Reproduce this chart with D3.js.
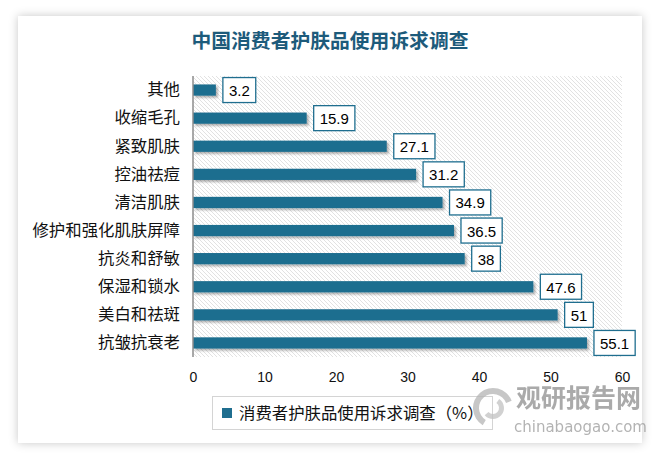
<!DOCTYPE html>
<html><head><meta charset="utf-8">
<script src="https://cdn.jsdelivr.net/npm/d3@7"></script>
<style>html,body{margin:0;padding:0;background:#fff;}svg{display:block;}</style>
</head><body>
<script>
const categories = ["其他","收缩毛孔","紧致肌肤","控油祛痘","清洁肌肤","修护和强化肌肤屏障","抗炎和舒敏","保湿和锁水","美白和祛斑","抗皱抗衰老"];
const values = [3.2,15.9,27.1,31.2,34.9,36.5,38,47.6,51,55.1];
const tickValues = [0,10,20,30,40,50,60];
const title = "中国消费者护肤品使用诉求调查";
const legendLabel = "消费者护肤品使用诉求调查（%）";

const W = 659, H = 459;
const barColor = "#1f6e8f";
const svg = d3.select("body").append("svg").attr("width", W).attr("height", H);
const defs = svg.append("defs");

const cs = defs.append("filter").attr("id","cardShadow").attr("x","-10%").attr("y","-10%").attr("width","120%").attr("height","120%");
cs.append("feDropShadow").attr("dx",0).attr("dy",0).attr("stdDeviation",5).attr("flood-color","#000").attr("flood-opacity",0.22);

const bs = defs.append("filter").attr("id","barShadow").attr("x","-5%").attr("y","-50%").attr("width","115%").attr("height","220%");
bs.append("feDropShadow").attr("dx",2).attr("dy",2).attr("stdDeviation",1.2).attr("flood-color","#000").attr("flood-opacity",0.3);

const pat = defs.append("pattern").attr("id","hatch").attr("patternUnits","userSpaceOnUse")
  .attr("width",4).attr("height",4);
pat.append("rect").attr("width",4).attr("height",4).attr("fill","#fff");
pat.append("path").attr("d","M-1,-1 L5,5 M-1,3 L1,5 M3,-1 L5,1").attr("stroke","#e2e2e2").attr("stroke-width",1);

// card
svg.append("rect").attr("x",18).attr("y",16).attr("width",624).attr("height",427)
  .attr("fill","#fff").attr("filter","url(#cardShadow)");

// title
svg.append("text").attr("x",330).attr("y",48).attr("text-anchor","middle")
  .attr("font-family","'Noto Sans CJK SC'").attr("font-weight","bold").attr("font-size",19.8)
  .attr("fill","#1d5b7b").text(title);

const x = d3.scaleLinear().domain([0,60]).range([193,622]);
const y = d3.scaleBand().domain(categories).range([76,357]).paddingInner(0.6).paddingOuter(0.3);

// plot background
svg.append("rect").attr("x",x(0)).attr("y",76).attr("width",x(60)-x(0)).attr("height",281).attr("fill","url(#hatch)");

// bars
svg.append("g").selectAll("rect").data(categories).join("rect")
  .attr("x",x(0)).attr("y",d=>y(d)).attr("width",(d,i)=>x(values[i])-x(0)).attr("height",y.bandwidth())
  .attr("fill",barColor).attr("filter","url(#barShadow)");

// axis line
svg.append("line").attr("x1",x(0)).attr("x2",x(0)).attr("y1",76).attr("y2",357).attr("stroke","#8c8c8c").attr("stroke-width",1.5);

// category labels
const yAxis = svg.append("g").attr("transform",`translate(${x(0)},0)`)
  .call(d3.axisLeft(y).tickSize(0).tickPadding(13));
yAxis.select(".domain").remove();
yAxis.selectAll("text").attr("font-family","'Noto Sans CJK SC'").attr("font-size",16.4).attr("fill","#111");

// x tick labels
const xAxis = svg.append("g").attr("transform","translate(0,357)")
  .call(d3.axisBottom(x).tickValues(tickValues).tickSize(0).tickPadding(15));
xAxis.select(".domain").remove();
xAxis.selectAll("text").attr("font-family","'Liberation Sans'").attr("font-size",14).attr("fill","#111");

// value boxes
const lab = svg.append("g").selectAll("g").data(categories).join("g");
lab.each(function(d,i){
  const g = d3.select(this);
  const cy = y(d) + y.bandwidth()/2;
  const t = g.append("text").attr("font-family","'Liberation Sans'").attr("font-size",15).attr("fill","#000")
    .attr("dominant-baseline","central").text(values[i]);
  const tw = t.node().getComputedTextLength();
  const bx = x(values[i]) + 7;
  const bw = tw + 12;
  g.insert("rect","text").attr("x",bx).attr("y",cy-12.5).attr("width",bw).attr("height",25)
    .attr("fill","#fff").attr("stroke",barColor).attr("stroke-width",1.3);
  t.attr("x",bx+6).attr("y",cy+0.5);
});

// legend
svg.append("rect").attr("x",212.5).attr("y",396.5).attr("width",280).attr("height",33)
  .attr("fill","#fff").attr("stroke","#d4d4d4");
svg.append("rect").attr("x",222).attr("y",408).attr("width",10).attr("height",10).attr("fill",barColor);
svg.append("text").attr("x",239).attr("y",419).attr("font-family","'Noto Sans CJK SC'").attr("font-size",16.4)
  .attr("fill","#111").text(legendLabel);

// watermark
const wm = svg.append("g").attr("opacity",0.75);
wm.append("path").attr("d",d3.arc()({innerRadius:14,outerRadius:20,startAngle:-2.6,endAngle:1.2}))
  .attr("transform","translate(493,408)").attr("fill","#b5b5b5");
wm.append("path").attr("d",d3.arc()({innerRadius:6,outerRadius:11,startAngle:0.6,endAngle:4.0}))
  .attr("transform","translate(493,408)").attr("fill","#c2c2c2");
wm.append("text").attr("x",516).attr("y",407).attr("font-family","'Noto Sans CJK SC'").attr("font-weight","bold")
  .attr("font-size",25).attr("fill","#8e8e8e").text("观研报告网");
wm.append("text").attr("x",514).attr("y",432).attr("font-family","'DejaVu Sans'")
  .attr("font-size",15).attr("fill","#9a9a9a").text("chinabaogao.com");
</script>
</body></html>
